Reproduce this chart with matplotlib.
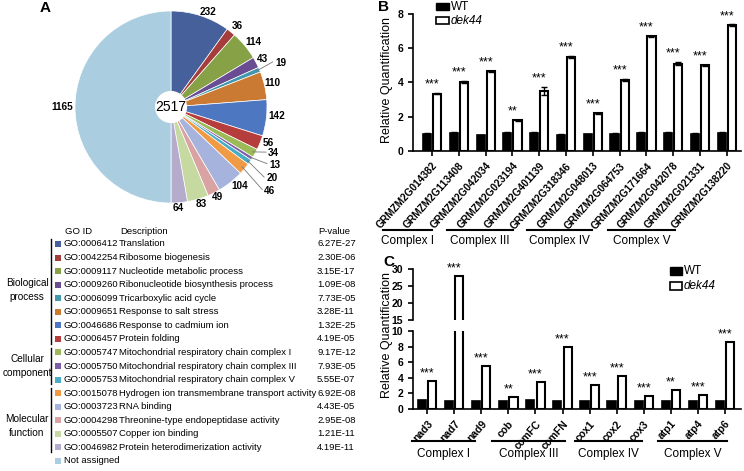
import matplotlib.pyplot as plt
import numpy as np
from matplotlib.patches import Rectangle, Circle
from matplotlib.lines import Line2D

plt.rcParams['font.family'] = ['Liberation Sans', 'DejaVu Sans']

# ---------------- panel A data
go_ids = ['GO:0006412', 'GO:0042254', 'GO:0009117', 'GO:0009260', 'GO:0006099',
          'GO:0009651', 'GO:0046686', 'GO:0006457', 'GO:0005747', 'GO:0005750',
          'GO:0005753', 'GO:0015078', 'GO:0003723', 'GO:0004298', 'GO:0005507',
          'GO:0046982']
go_desc = ['Translation', 'Ribosome biogenesis', 'Nucleotide metabolic process',
           'Ribonucleotide biosynthesis process', 'Tricarboxylic acid cycle',
           'Response to salt stress', 'Response to cadmium ion', 'Protein folding',
           'Mitochondrial respiratory chain complex I',
           'Mitochondrial respiratory chain complex III',
           'Mitochondrial respiratory chain complex V',
           'Hydrogen ion transmembrane transport activity', 'RNA binding',
           'Threonine-type endopeptidase activity', 'Copper ion binding',
           'Protein heterodimerization activity']
p_values = ['6.27E-27', '2.30E-06', '3.15E-17', '1.09E-08', '7.73E-05', '3.28E-11',
            '1.32E-25', '4.19E-05', '9.17E-12', '7.93E-05', '5.55E-07', '6.92E-08',
            '4.43E-05', '2.95E-08', '1.21E-11', '4.19E-11']
go_counts = [232, 36, 114, 43, 19, 110, 142, 56, 34, 13, 20, 46, 104, 49, 83, 64, 1165]
go_colors = ['#45609A', '#A43D3B', '#86A146', '#6A4C93', '#4198AF', '#CB7A33',
             '#4E77C1', '#B53E3D', '#9CBB58', '#7B5EA7', '#4BACC6', '#F09A45',
             '#A6B4DD', '#D9A3A3', '#C5D9A1', '#B4ABCD', '#ABCDE0']
total_genes = 2517

# ---------------- panel B data
genes_b = ['GRMZM2G014382', 'GRMZM2G113408', 'GRMZM2G042034', 'GRMZM2G023194',
           'GRMZM2G401139', 'GRMZM2G318346', 'GRMZM2G048013', 'GRMZM2G064753',
           'GRMZM2G171664', 'GRMZM2G042078', 'GRMZM2G021331', 'GRMZM2G138220']
wt_b = [1.0, 1.05, 0.93, 1.05, 1.05, 0.95, 0.97, 1.0, 1.05, 1.05, 1.0, 1.05]
wt_b_err = [0.03, 0.04, 0.03, 0.08, 0.06, 0.03, 0.03, 0.04, 0.05, 0.06, 0.03, 0.06]
dek_b = [3.35, 4.05, 4.65, 1.8, 3.5, 5.5, 2.2, 4.15, 6.7, 5.1, 5.0, 7.35]
dek_b_err = [0.05, 0.06, 0.05, 0.03, 0.25, 0.05, 0.04, 0.08, 0.04, 0.1, 0.04, 0.06]
stars_b = ['***', '***', '***', '**', '***', '***', '***', '***', '***', '***', '***', '***']

# ---------------- panel C data
genes_c = ['nad3', 'nad7', 'nad9', 'cob', 'ccmFC', 'ccmFN',
           'cox1', 'cox2', 'cox3', 'atp1', 'atp4', 'atp6']
wt_c = [1.15, 1.0, 1.05, 1.0, 1.1, 1.05, 1.05, 1.0, 1.0, 1.0, 1.0, 1.0]
dek_c = [3.6, 28.0, 5.5, 1.55, 3.5, 8.0, 3.05, 4.2, 1.65, 2.45, 1.8, 8.6]
stars_c = ['***', '***', '***', '**', '***', '***', '***', '***', '***', '**', '***', '***']

complexes = ['Complex I', 'Complex III', 'Complex IV', 'Complex V']

W, H = 744, 471
fig = plt.figure(figsize=(W / 100, H / 100), dpi=100)


def fx(x):
    return x / W


def fy(y):
    return 1 - y / H


def ftext(x, y, s, **kw):
    fig.text(fx(x), fy(y), s, **kw)


def fline(x0, x1, y0, y1, **kw):
    fig.add_artist(Line2D([fx(x0), fx(x1)], [fy(y0), fy(y1)], transform=fig.transFigure, **kw))


def fbox(x, y, w, h, **kw):
    fig.add_artist(Rectangle((fx(x), fy(y + h)), w / W, h / H, transform=fig.transFigure, **kw))


# ================= A: pie
ax_pie = fig.add_axes([fx(75), fy(203), 192 / W, 192 / H])
wedges, _ = ax_pie.pie(go_counts, colors=go_colors, startangle=90, counterclock=False,
                       radius=1, wedgeprops=dict(edgecolor='white', linewidth=0.5))
ax_pie.set_xlim(-1, 1)
ax_pie.set_ylim(-1, 1)
ax_pie.set_aspect('equal')
ax_pie.axis('off')

label_xy = [(0.39, 0.99), (0.69, 0.84), (0.86, 0.68), (0.95, 0.5), (1.14, 0.46),
            (1.06, 0.25), (1.10, -0.09), (1.01, -0.375), (1.07, -0.48), (1.08, -0.6),
            (1.05, -0.74), (1.03, -0.87), (0.72, -0.82), (0.48, -0.94), (0.31, -1.01),
            (0.08, -1.05), (-1.135, 0.0)]
leader = {4, 8, 9, 10, 11}
for i, (w, n) in enumerate(zip(wedges, go_counts)):
    lx, ly = label_xy[i]
    ax_pie.text(lx, ly, str(n), ha='center', va='center', fontsize=7.2,
                fontweight='bold', clip_on=False)
    if i in leader:
        a = np.deg2rad((w.theta1 + w.theta2) / 2)
        ax_pie.plot([0.97 * np.cos(a), lx - 0.08], [0.97 * np.sin(a), ly + 0.01],
                    color='#777777', lw=0.6, clip_on=False)
ax_pie.add_patch(Circle((0, 0), 0.16, color='white', zorder=5))
ax_pie.text(0, 0, str(total_genes), ha='center', va='center', fontsize=10, zorder=6)

ftext(40, 8, 'A', fontsize=11, fontweight='bold', va='center')

# GO table
fs = 6.8
ftext(65, 231, 'GO ID', fontsize=fs, va='center')
ftext(120, 231, 'Description', fontsize=fs, va='center')
ftext(318, 231, 'P-value', fontsize=fs, va='center')
row_y = [244 + i * 13.56 for i in range(len(go_counts))]
for i, y in enumerate(row_y):
    fbox(55, y - 3, 6, 6, facecolor=go_colors[i], edgecolor='none')
    if i < len(go_ids):
        ftext(64, y, go_ids[i], fontsize=fs, va='center')
        ftext(119, y, go_desc[i], fontsize=fs, va='center')
        ftext(317, y, p_values[i], fontsize=fs, va='center')
    else:
        ftext(64, y, 'Not assigned', fontsize=fs, va='center')

fline(51, 51, 239, 344, color='black', lw=1)
fline(51, 51, 348, 384, color='black', lw=1)
fline(51, 51, 388, 452, color='black', lw=1)
ftext(27, 290.5, 'Biological\nprocess', fontsize=7.2, ha='center', va='center', linespacing=1.5)
ftext(27, 366.5, 'Cellular\ncomponent', fontsize=7.2, ha='center', va='center', linespacing=1.5)
ftext(27, 425.5, 'Molecular\nfunction', fontsize=7.2, ha='center', va='center', linespacing=1.5)


# ================= bar helper
def style_axis(ax):
    for s in ['top', 'right']:
        ax.spines[s].set_visible(False)
    for s in ['left', 'bottom']:
        ax.spines[s].set_linewidth(1.2)
    ax.tick_params(axis='both', width=1.2, length=3.5, direction='out')
    for lab in ax.get_yticklabels():
        lab.set_fontweight('bold')
        lab.set_fontsize(7.5)


def draw_bars(ax, wt, dek, wt_err=None, dek_err=None):
    x = np.arange(len(wt))
    ekw = dict(lw=1, capthick=1, ecolor='black')
    ax.bar(x - 0.19, wt, 0.3, color='black', edgecolor='black', linewidth=1.2,
           yerr=wt_err, capsize=2, error_kw=ekw)
    ax.bar(x + 0.19, dek, 0.3, color='white', edgecolor='black', linewidth=1.5,
           yerr=dek_err, capsize=2, error_kw=ekw)
    return x


# ================= B
ax_b = fig.add_axes([fx(413), fy(151), (741 - 413) / W, (151 - 14) / H])
xb = draw_bars(ax_b, wt_b, dek_b, wt_b_err, dek_b_err)
ax_b.set_xlim(-0.71, 11.53)
ax_b.set_ylim(0, 8)
ax_b.set_yticks([0, 2, 4, 6, 8])
ax_b.set_xticks(xb)
ax_b.set_xticklabels(genes_b, rotation=48, ha='right', rotation_mode='anchor',
                     fontsize=7.3, fontweight='bold')
style_axis(ax_b)
for i in range(len(xb)):
    ax_b.text(xb[i], dek_b[i] + dek_b_err[i] + 0.12, stars_b[i], ha='center',
              va='bottom', fontsize=9)

ftext(378, 7, 'B', fontsize=11, fontweight='bold', va='center')
ftext(387, 80, 'Relative Quantification', fontsize=9, rotation=90, ha='center', va='center')
fbox(436, 3, 13, 7, facecolor='black', edgecolor='black', lw=1)
fbox(436, 17, 13, 7, facecolor='white', edgecolor='black', lw=1.2)
ftext(451, 6.5, 'WT', fontsize=8.5, va='center')
ftext(451, 20.5, 'dek44', fontsize=8.5, va='center', style='italic')

b_lines = [(383, 432), (447, 513), (527, 592), (608, 675)]
for (x0, x1), name in zip(b_lines, complexes):
    fline(x0, x1, 230, 230, color='black', lw=1.5)
    ftext((x0 + x1) / 2, 241, name, fontsize=8.5, ha='center', va='center')

# ================= C (broken axis)
ax_c = fig.add_axes([fx(413), fy(409), (741 - 413) / W, (409 - 331) / H])
ax_cu = fig.add_axes([fx(413), fy(320), (741 - 413) / W, (320 - 269) / H])
for ax in (ax_c, ax_cu):
    xc = draw_bars(ax, wt_c, dek_c)
    ax.set_xlim(-0.52, 11.59)
ax_c.set_ylim(0, 10)
ax_c.set_yticks([0, 2, 4, 6, 8, 10])
ax_cu.set_ylim(15, 30)
ax_cu.set_yticks([15, 20, 25, 30])
ax_c.set_xticks(xc)
ax_c.set_xticklabels(genes_c, rotation=48, ha='right', rotation_mode='anchor',
                     fontsize=7.5, fontweight='bold')
style_axis(ax_c)
style_axis(ax_cu)
ax_cu.spines['bottom'].set_visible(False)
ax_cu.set_xticks([])
for i in range(len(xc)):
    if dek_c[i] > 10:
        ax_cu.text(xc[i], dek_c[i] + 0.4, stars_c[i], ha='center', va='bottom', fontsize=9)
    else:
        ax_c.text(xc[i], dek_c[i] + 0.2, stars_c[i], ha='center', va='bottom', fontsize=9)

ftext(383, 262, 'C', fontsize=11, fontweight='bold', va='center')
ftext(387, 335, 'Relative Quantification', fontsize=9, rotation=90, ha='center', va='center')
fbox(670, 267, 12, 8, facecolor='black', edgecolor='black', lw=1)
fbox(670, 282, 12, 8, facecolor='white', edgecolor='black', lw=1.2)
ftext(684, 271, 'WT', fontsize=8.5, va='center')
ftext(684, 286, 'dek44', fontsize=8.5, va='center', style='italic')

c_lines = [(412, 475), (492, 565), (575, 642), (658, 727)]
for (x0, x1), name in zip(c_lines, complexes):
    fline(x0, x1, 441, 441, color='black', lw=1.5)
    ftext((x0 + x1) / 2, 454, name, fontsize=8.5, ha='center', va='center')

fig.savefig('out.png', dpi=100)
